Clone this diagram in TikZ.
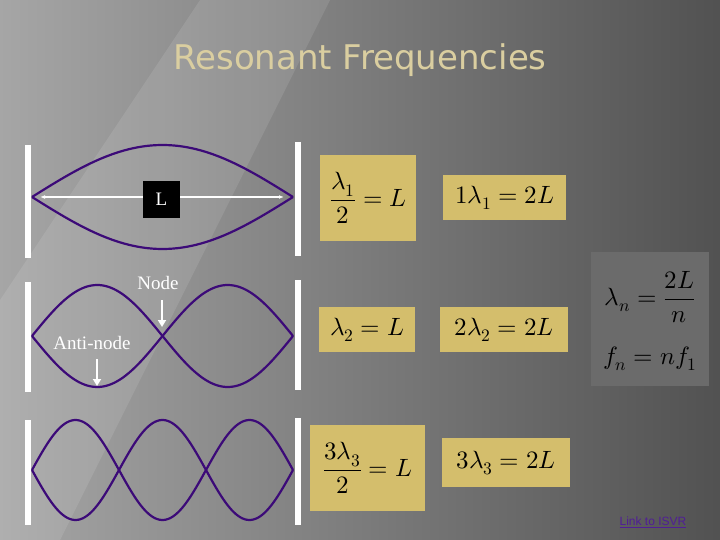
\documentclass[tikz,border=0pt]{standalone}
\usepackage{amsmath}
\usepackage{fontspec}
\usepackage{unicode-math}
\setmainfont{Liberation Serif}
\setmathfont{Latin Modern Math}
\newfontfamily\titlefont{DejaVu Sans}
\newfontfamily\linkfont{Liberation Sans}
\usetikzlibrary{arrows.meta,shadings}
\definecolor{tan}{RGB}{212,190,108}
\definecolor{wave}{RGB}{60,10,120}
\definecolor{linkc}{RGB}{80,30,150}
\definecolor{titlec}{RGB}{218,206,160}
\begin{document}
\begin{tikzpicture}[x=1pt,y=-1pt,
 wall/.style={white,line width=6pt},
 wv/.style={wave,line width=2.2pt},
 fbox/.style={fill=tan,inner sep=0pt,anchor=north west},
 fm/.style={font=\fontsize{25}{27}\selectfont},
 lbl/.style={white,font=\fontsize{19}{19}\selectfont},
 arr/.style={white,line width=2.5pt,-{Triangle[width=8pt,length=7pt]}}]
\useasboundingbox (0,0) rectangle (720,540);
\shade[left color=gray!70!white, right color=black!68!white] (0,0) rectangle (720,540);
\fill[white,opacity=0.10] (0,300) -- (200,0) -- (330,0) -- (60,540) -- (0,540) -- cycle;
\node[titlec,font=\titlefont\fontsize{34}{34}\selectfont] (title) at (360,60) {Resonant Frequencies};
% walls
\draw[wall] (28,145) -- (28,258); \draw[wall] (298,142) -- (298,256);
\draw[wall] (28,282) -- (28,392); \draw[wall] (298,280) -- (298,390);
\draw[wall] (28,420) -- (28,525); \draw[wall] (298,418) -- (298,525);
% waves
\draw[wv,domain=0:180,samples=60] plot ({32+\x/180*261},{197-52*sin(\x)});
\draw[wv,domain=0:180,samples=60] plot ({32+\x/180*261},{197+52*sin(\x)});
\draw[wv,domain=0:360,samples=90] plot ({32+\x/360*261},{336-51*sin(\x)});
\draw[wv,domain=0:360,samples=90] plot ({32+\x/360*261},{336+51*sin(\x)});
\draw[wv,domain=0:540,samples=120] plot ({32+\x/540*261},{470-50*sin(\x)});
\draw[wv,domain=0:540,samples=120] plot ({32+\x/540*261},{470+50*sin(\x)});
% L
\coordinate (la) at (40,197); \coordinate (lb) at (284,197);
\draw[white,line width=1.2pt,{Latex[length=5pt]}-{Latex[length=5pt]}] (la) -- (lb);
\node[fill=black,text=white,minimum size=37pt,inner sep=0pt,font=\fontsize{19}{19}\selectfont] (L) at (161.5,199.5) {L};
\node[lbl] (nd) at (158,283) {Node};
\coordinate (nda) at (162,300); \coordinate (ndb) at (162,327);
\draw[arr] (nda) -- (ndb);
\node[lbl] (an) at (92,343) {Anti-node};
\coordinate (ana) at (97,359); \coordinate (anb) at (97,386);
\draw[arr] (ana) -- (anb);
% formulas
\node[fbox,minimum width=96pt,minimum height=86pt] (f1) at (320,155) {};
\node[fm] at (f1.center) {$\dfrac{\lambda_1}{2}=L$};
\node[fbox,minimum width=123pt,minimum height=45pt] (f2) at (443,175) {};
\node[fm] at (f2.center) {$1\lambda_1=2L$};
\node[fbox,minimum width=96pt,minimum height=45pt] (f3) at (319,307) {};
\node[fm] at (f3.center) {$\lambda_2=L$};
\node[fbox,minimum width=128pt,minimum height=45pt] (f4) at (440,307) {};
\node[fm] at (f4.center) {$2\lambda_2=2L$};
\node[fbox,minimum width=115pt,minimum height=86pt] (f5) at (310,425) {};
\node[fm] at (f5.center) {$\dfrac{3\lambda_3}{2}=L$};
\node[fbox,minimum width=128pt,minimum height=49pt] (f6) at (442,438) {};
\node[fm] at (f6.center) {$3\lambda_3=2L$};
\node[fill=black!45!gray!80!white,minimum width=118pt,minimum height=134pt,inner sep=0pt,anchor=north west] (g) at (591,252) {};
\node[fm] (g1) at (650,297) {$\lambda_n=\dfrac{2L}{n}$};
\node[fm] (g2) at (650,359) {$f_n=nf_1$};
\node[text=linkc,font=\linkfont\fontsize{12}{12}\selectfont] (link) at (653,522) {\underline{Link to ISVR}};
\end{tikzpicture}
\end{document}
